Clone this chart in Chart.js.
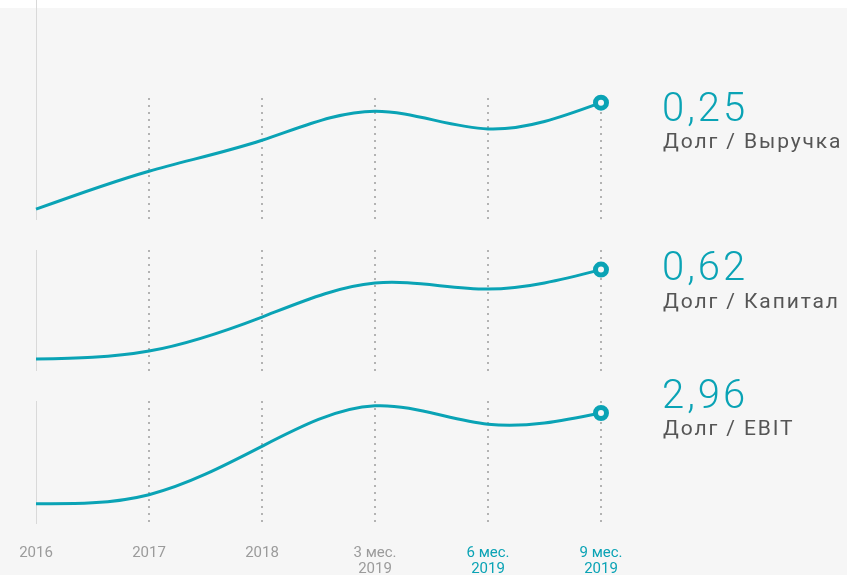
<!DOCTYPE html>
<html>
<head>
<meta charset="utf-8">
<script src="https://cdn.jsdelivr.net/npm/chart.js@4/dist/chart.umd.min.js"></script>
<style>
  body { margin: 0; background: #ffffff; font-family: Roboto, sans-serif; }
  #wrap { position: relative; width: 847px; height: 575px; overflow: hidden; }
  #bg { position: absolute; left: 0; top: 8px; width: 847px; height: 567px; background: #f6f6f6; }
  canvas { position: absolute; left: 0; top: 0; }
  .value { position: absolute; left: 662px; font-size: 40px; line-height: 40px; font-weight: 300; letter-spacing: 3px; color: #0aa3b5; }
  .name { position: absolute; left: 663px; font-size: 21px; line-height: 21px; letter-spacing: 1.9px; color: #555555; }
</style>
</head>
<body>
<div id="wrap">
  <div id="bg"></div>
  <canvas id="chart_revenue" width="847" height="575"></canvas>
  <canvas id="chart_equity" width="847" height="575"></canvas>
  <canvas id="chart_ebit" width="847" height="598"></canvas>
  <div class="value" id="value_0" style="top:88px"></div>
  <div class="name" id="name_0" style="top:131px"></div>
  <div class="value" id="value_1" style="top:247px"></div>
  <div class="name" id="name_1" style="top:291px"></div>
  <div class="value" id="value_2" style="top:375px"></div>
  <div class="name" id="name_2" style="top:418px"></div>
</div>
<script>
var periodLabels = [
  "2016",
  "2017",
  "2018",
  ["3 мес.", "2019"],
  ["6 мес.", "2019"],
  ["9 мес.", "2019"],
];
var debtToRevenue = [0.023, 0.104, 0.17, 0.232, 0.194, 0.25];
var debtToEquity = [0.073, 0.122, 0.33, 0.538, 0.501, 0.62];
var debtToEbit = [0.54, 0.78, 2.07, 3.15, 2.66, 2.96];
var seriesNames = ["Долг / Выручка", "Долг / Капитал", "Долг / EBIT"];

var teal = "#0aa3b5";
var lastIdx = periodLabels.length - 1;

// solid line at 2016 running up to the top of the page (first panel only)
var topLinePlugin = {
  id: "topLine",
  beforeDatasetsDraw: function (chart) {
    var x = Math.round(chart.scales.x.getPixelForTick(0)) + 0.5;
    var c = chart.ctx;
    c.save();
    c.strokeStyle = "#d9d9d9";
    c.lineWidth = 1;
    c.beginPath();
    c.moveTo(x, 0);
    c.lineTo(x, chart.chartArea.top);
    c.stroke();
    c.restore();
  },
};

// natural cubic spline control points (Chart.js only has catmull-rom / monotone)
function naturalControls(v) {
  var n = v.length - 1, a = new Array(n), b = new Array(n), r = new Array(n), i, m;
  a[0] = 0; b[0] = 2; r[0] = v[0] + 2 * v[1];
  for (i = 1; i < n - 1; ++i) { a[i] = 1; b[i] = 4; r[i] = 4 * v[i] + 2 * v[i + 1]; }
  a[n - 1] = 2; b[n - 1] = 7; r[n - 1] = 8 * v[n - 1] + v[n];
  for (i = 1; i < n; ++i) { m = a[i] / b[i - 1]; b[i] -= m; r[i] -= m * r[i - 1]; }
  a[n - 1] = r[n - 1] / b[n - 1];
  for (i = n - 2; i >= 0; --i) a[i] = (r[i] - a[i + 1]) / b[i];
  b[n - 1] = (v[n] + a[n - 1]) / 2;
  for (i = 0; i < n - 1; ++i) b[i] = 2 * v[i + 1] - a[i + 1];
  return [a, b];
}

var naturalCurvePlugin = {
  id: "naturalCurve",
  beforeDatasetDraw: function (chart, args) {
    var pts = args.meta.data;
    var cx = naturalControls(pts.map(function (p) { return p.x; }));
    var cy = naturalControls(pts.map(function (p) { return p.y; }));
    for (var i = 0; i < pts.length - 1; i++) {
      pts[i].cp2x = cx[0][i];
      pts[i].cp2y = cy[0][i];
      pts[i + 1].cp1x = cx[1][i];
      pts[i + 1].cp1y = cy[1][i];
    }
    args.meta.dataset._pointsUpdated = true;
    args.meta.dataset._path = undefined;
  },
};

function makePanel(id, values, yMax, padTop, padBottom, showTicks, plugins) {
  var ctx = document.getElementById(id).getContext("2d");
  return new Chart(ctx, {
    type: "line",
    data: {
      labels: periodLabels,
      datasets: [
        {
          data: values,
          borderColor: teal,
          borderWidth: 3,
          tension: 0.4,
          fill: false,
          clip: false,
          pointRadius: function (c) { return c.dataIndex === lastIdx ? 5.5 : 0; },
          pointBorderWidth: 5,
          pointBorderColor: teal,
          pointBackgroundColor: "#f6f6f6",
        },
      ],
    },
    options: {
      responsive: false,
      animation: false,
      events: [],
      layout: { padding: { top: padTop, bottom: padBottom, left: 36, right: 246 } },
      plugins: { legend: { display: false }, tooltip: { enabled: false } },
      scales: {
        x: {
          // keep the plot edges fixed, labels have room in the margins anyway
          afterFit: function (s) {
            s.paddingLeft = 0;
            s.paddingRight = 0;
          },
          grid: {
            drawTicks: false,
            color: function (c) { return c.index === 0 ? "#d9d9d9" : "#b3b3b3"; },
            lineWidth: function (c) { return c.index === 0 ? 1 : 2; },
          },
          border: {
            display: false,
            dash: function (c) { return c.index === 0 ? [] : [2, 5]; },
          },
          ticks: {
            display: showTicks,
            padding: 21,
            maxRotation: 0,
            autoSkip: false,
            font: { family: "Roboto", size: 15, lineHeight: 1.07 },
            color: function (c) { return c.index >= 4 ? teal : "#9b9b9b"; },
          },
        },
        y: { display: false, min: 0, max: yMax },
      },
    },
    plugins: [naturalCurvePlugin].concat(plugins || []),
  });
}

makePanel("chart_revenue", debtToRevenue, 0.26, 98, 355, false, [topLinePlugin]);
makePanel("chart_equity", debtToEquity, 0.74, 250, 204, false);
makePanel("chart_ebit", debtToEbit, 3.28, 401, 0, true);

var allSeries = [debtToRevenue, debtToEquity, debtToEbit];
for (var i = 0; i < allSeries.length; i++) {
  document.getElementById("value_" + i).textContent =
    allSeries[i][lastIdx].toFixed(2).replace(".", ",");
  document.getElementById("name_" + i).textContent = seriesNames[i];
}
</script>
</body>
</html>
